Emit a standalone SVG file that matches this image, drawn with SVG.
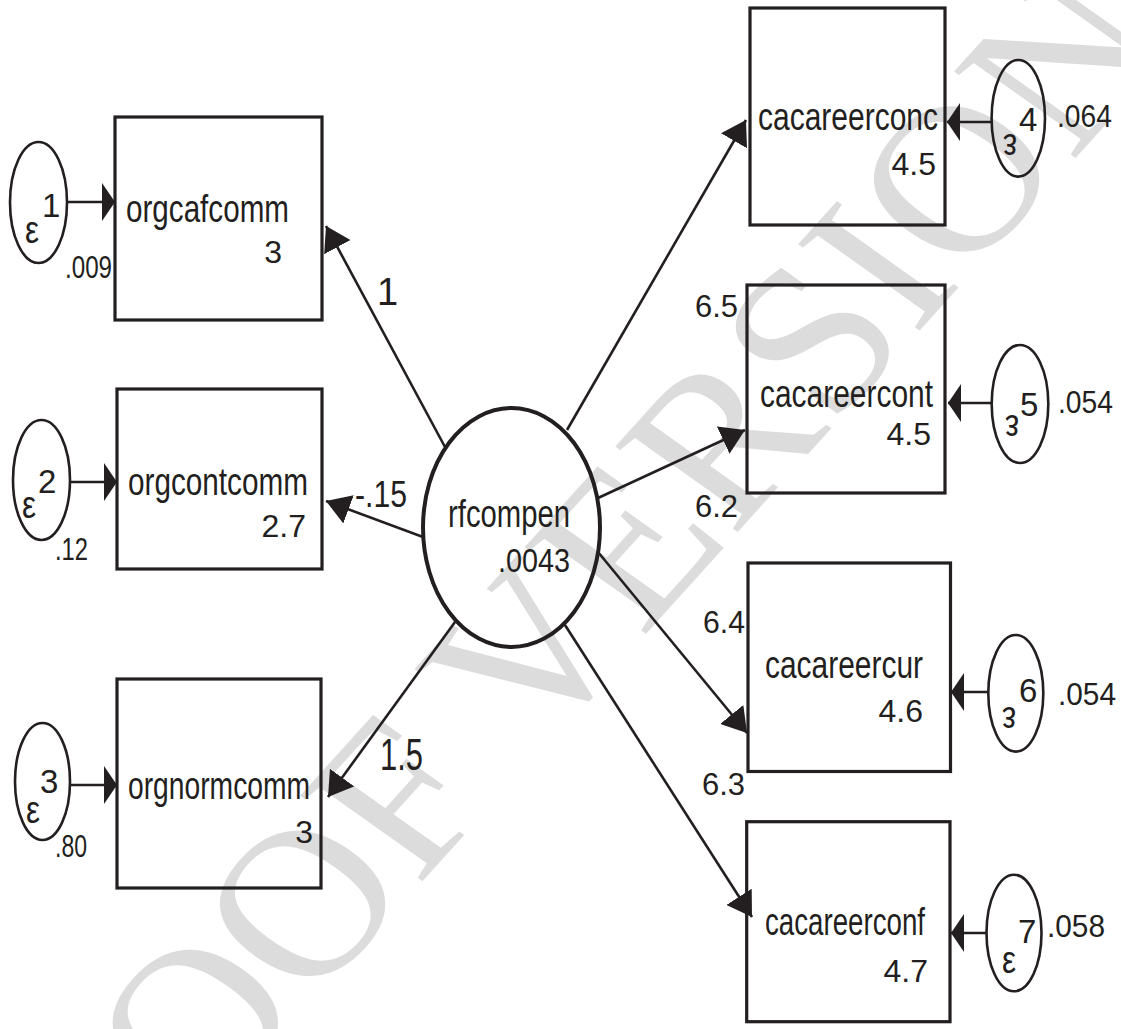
<svg xmlns="http://www.w3.org/2000/svg" width="1121" height="1029" viewBox="0 0 1121 1029">
<style>
  .wm { font-family: "Liberation Serif", "Times New Roman", serif; font-size: 211px; fill: #dcdcdc; }
  .box { fill: none; stroke: #231f20; stroke-width: 3.2; }
  .eps { fill: none; stroke: #231f20; stroke-width: 2.6; }
  .lat { fill: none; stroke: #231f20; stroke-width: 4; }
  .ln { fill: none; stroke: #231f20; stroke-width: 2.6; }
  .nm { font-family: "Liberation Sans", Arial, sans-serif; font-size: 38px; fill: #231f20; }
  .nu { font-family: "Liberation Sans", Arial, sans-serif; font-size: 32px; fill: #231f20; }
  .ep { font-family: "Liberation Sans", Arial, sans-serif; font-size: 39px; fill: #231f20; }
  .sup { font-family: "Liberation Sans", Arial, sans-serif; font-size: 33px; fill: #231f20; }
</style>
<defs>
  <marker id="ah" viewBox="0 0 24 30" refX="24" refY="15" markerWidth="24" markerHeight="30" markerUnits="userSpaceOnUse" orient="auto">
    <path d="M0,0 L24,15 L0,30 Z" fill="#231f20"/>
  </marker>
  <marker id="ahe" viewBox="0 0 13 38" refX="13" refY="19" markerWidth="13" markerHeight="38" markerUnits="userSpaceOnUse" orient="auto">
    <path d="M0,0 L13,19 L0,38 Z" fill="#231f20"/>
  </marker>
</defs>
<rect width="1121" height="1029" fill="#ffffff"/>
<text class="wm" transform="translate(20.6,1326.3) scale(1.127,1) rotate(-51.3)">PROOF VERSION</text>

<g id="connectors">
  <path class="ln" d="M445,447 L326,226" marker-end="url(#ah)"/>
  <path class="ln" d="M423,537 L326,501" marker-end="url(#ah)"/>
  <path class="ln" d="M455,622 L328,797" marker-end="url(#ah)"/>
  <path class="ln" d="M567,430 L746,120" marker-end="url(#ah)"/>
  <path class="ln" d="M598,498 L745,430" marker-end="url(#ah)"/>
  <path class="ln" d="M598,552 L747,733" marker-end="url(#ah)"/>
  <path class="ln" d="M565,625 L752,917" marker-end="url(#ah)"/>
  <path class="ln" d="M67,202 L115,202" marker-end="url(#ahe)"/>
  <path class="ln" d="M70,482 L117,482" marker-end="url(#ahe)"/>
  <path class="ln" d="M70,785 L117,785" marker-end="url(#ahe)"/>
  <path class="ln" d="M992,122 L947,122" marker-end="url(#ahe)"/>
  <path class="ln" d="M992,403 L948,403" marker-end="url(#ahe)"/>
  <path class="ln" d="M988,692 L951,692" marker-end="url(#ahe)"/>
  <path class="ln" d="M987,933 L951,933" marker-end="url(#ahe)"/>
  <text class="nu" x="377" y="305" style="font-size:38px">1</text>
  <text class="nu" x="355" y="507" textLength="52" lengthAdjust="spacingAndGlyphs" style="font-size:37px">-.15</text>
  <text class="nu" x="380" y="770" textLength="43" lengthAdjust="spacingAndGlyphs" style="font-size:44px">1.5</text>
</g>

<g id="rfcompen">
  <ellipse class="lat" cx="511.5" cy="527.5" rx="88.5" ry="119.5"/>
  <text class="nm" x="448" y="527" textLength="122" lengthAdjust="spacingAndGlyphs">rfcompen</text>
  <text class="nu" x="498" y="572" textLength="72" lengthAdjust="spacingAndGlyphs" style="font-size:33px">.0043</text>
</g>

<g id="orgcafcomm">
  <rect class="box" x="115" y="117" width="207" height="203"/>
  <text class="nm" x="126" y="222" textLength="163" lengthAdjust="spacingAndGlyphs">orgcafcomm</text>
  <text class="nu" x="282" y="263" text-anchor="end">3</text>
</g>
<g id="e1">
  <ellipse class="eps" cx="38.5" cy="202.5" rx="28.5" ry="60.5"/>
  <text class="ep" x="25" y="243" textLength="14" lengthAdjust="spacingAndGlyphs">ε</text>
  <text class="sup" x="42" y="217">1</text>
  <text class="nu" x="65" y="278" textLength="47" lengthAdjust="spacingAndGlyphs">.009</text>
</g>

<g id="orgcontcomm">
  <rect class="box" x="117" y="389" width="205" height="180"/>
  <text class="nm" x="128" y="495" textLength="180" lengthAdjust="spacingAndGlyphs">orgcontcomm</text>
  <text class="nu" x="306" y="537" text-anchor="end">2.7</text>
</g>
<g id="e2">
  <ellipse class="eps" cx="41.5" cy="480" rx="28.5" ry="60"/>
  <text class="ep" x="22" y="518" textLength="14" lengthAdjust="spacingAndGlyphs">ε</text>
  <text class="sup" x="38" y="493">2</text>
  <text class="nu" x="55" y="560" textLength="33" lengthAdjust="spacingAndGlyphs">.12</text>
</g>

<g id="orgnormcomm">
  <rect class="box" x="117" y="679" width="204" height="209"/>
  <text class="nm" x="128" y="799" textLength="182" lengthAdjust="spacingAndGlyphs">orgnormcomm</text>
  <text class="nu" x="313" y="843" text-anchor="end">3</text>
</g>
<g id="e3">
  <ellipse class="eps" cx="42.5" cy="781.5" rx="27.5" ry="58.5"/>
  <text class="ep" x="26" y="823" textLength="14" lengthAdjust="spacingAndGlyphs">ε</text>
  <text class="sup" x="40" y="793">3</text>
  <text class="nu" x="55" y="857" textLength="32" lengthAdjust="spacingAndGlyphs">.80</text>
</g>

<g id="cacareerconc">
  <rect class="box" x="750" y="8" width="195" height="217"/>
  <text class="nm" x="758" y="130" textLength="180" lengthAdjust="spacingAndGlyphs">cacareerconc</text>
  <text class="nu" x="936" y="175" text-anchor="end">4.5</text>
</g>
<g id="e4">
  <ellipse class="eps" cx="1018.3" cy="118.3" rx="26.7" ry="58.3"/>
  <text class="ep" x="1010" y="154" text-anchor="middle" textLength="14" lengthAdjust="spacingAndGlyphs" transform="rotate(180 1010 144)">ε</text>
  <text class="sup" x="1019" y="131">4</text>
  <text class="nu" x="1057" y="127" textLength="55" lengthAdjust="spacingAndGlyphs">.064</text>
</g>

<g id="cacareercont">
  <rect class="box" x="747" y="285" width="198" height="208"/>
  <text class="nu" x="695" y="317" textLength="43" lengthAdjust="spacingAndGlyphs">6.5</text>
  <text class="nu" x="695" y="517" textLength="43" lengthAdjust="spacingAndGlyphs">6.2</text>
  <text class="nm" x="760" y="407" textLength="173" lengthAdjust="spacingAndGlyphs">cacareercont</text>
  <text class="nu" x="931" y="445" text-anchor="end">4.5</text>
</g>
<g id="e5">
  <ellipse class="eps" cx="1020" cy="404" rx="28.3" ry="59"/>
  <text class="ep" x="1012" y="435" text-anchor="middle" textLength="14" lengthAdjust="spacingAndGlyphs" transform="rotate(180 1012 425)">ε</text>
  <text class="sup" x="1020" y="416">5</text>
  <text class="nu" x="1058" y="413" textLength="55" lengthAdjust="spacingAndGlyphs">.054</text>
</g>

<g id="cacareercur">
  <rect class="box" x="748" y="563" width="202.5" height="208.5"/>
  <text class="nu" x="703" y="633" textLength="42" lengthAdjust="spacingAndGlyphs">6.4</text>
  <text class="nu" x="702" y="795" textLength="43" lengthAdjust="spacingAndGlyphs">6.3</text>
  <text class="nm" x="765" y="678" textLength="158" lengthAdjust="spacingAndGlyphs">cacareercur</text>
  <text class="nu" x="923" y="722" text-anchor="end">4.6</text>
</g>
<g id="e6">
  <ellipse class="eps" cx="1015.8" cy="693.3" rx="27.5" ry="58.3"/>
  <text class="ep" x="1009" y="727" text-anchor="middle" textLength="14" lengthAdjust="spacingAndGlyphs" transform="rotate(180 1009 717)">ε</text>
  <text class="sup" x="1019" y="702">6</text>
  <text class="nu" x="1058" y="705" textLength="58" lengthAdjust="spacingAndGlyphs">.054</text>
</g>

<g id="cacareerconf">
  <rect class="box" x="746.7" y="821.7" width="203.3" height="200"/>
  <text class="nm" x="765" y="935" textLength="160" lengthAdjust="spacingAndGlyphs">cacareerconf</text>
  <text class="nu" x="928" y="982" text-anchor="end">4.7</text>
</g>
<g id="e7">
  <ellipse class="eps" cx="1014" cy="933" rx="27.5" ry="58.3"/>
  <text class="ep" x="1002" y="973" textLength="14" lengthAdjust="spacingAndGlyphs">ε</text>
  <text class="sup" x="1018" y="943">7</text>
  <text class="nu" x="1047" y="937" textLength="58" lengthAdjust="spacingAndGlyphs">.058</text>
</g>
</svg>
